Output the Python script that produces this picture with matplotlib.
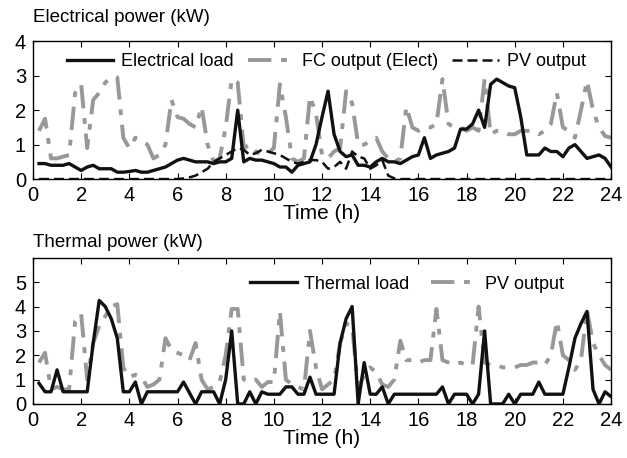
import numpy as np
import matplotlib
matplotlib.use('Agg')
import matplotlib.pyplot as plt

plt.rcParams['font.family'] = ['Liberation Sans', 'DejaVu Sans']

# time in hours, 15 min steps
hours = np.arange(1, 97) * 0.25

elec_load = [0.45, 0.45, 0.4, 0.4, 0.4, 0.45, 0.35, 0.25,
             0.35, 0.4, 0.3, 0.3, 0.3, 0.2, 0.2, 0.22,
             0.25, 0.2, 0.2, 0.25, 0.3, 0.35, 0.45, 0.55,
             0.6, 0.55, 0.5, 0.5, 0.5, 0.45, 0.5, 0.5,
             0.6, 2.0, 0.5, 0.6, 0.55, 0.55, 0.5, 0.45,
             0.35, 0.35, 0.2, 0.4, 0.45, 0.5, 1.0, 1.8,
             2.55, 1.3, 0.8, 0.65, 0.7, 0.4, 0.4, 0.35,
             0.5, 0.6, 0.5, 0.5, 0.45, 0.55, 0.65, 0.7,
             1.2, 0.6, 0.7, 0.75, 0.8, 0.9, 1.45, 1.45,
             1.6, 2.0, 1.5, 2.75, 2.9, 2.8, 2.7, 2.65,
             1.8, 0.7, 0.7, 0.7, 0.9, 0.8, 0.8, 0.65,
             0.9, 1.0, 0.8, 0.6, 0.65, 0.7, 0.6, 0.35]

fc_elec = [1.4, 1.75, 0.6, 0.6, 0.65, 0.7, 2.5, 2.75,
           0.9, 2.3, 2.5, 2.8, 2.95, 2.95, 1.2, 0.9,
           1.2, 1.1, 1.0, 0.6, 0.7, 1.0, 2.3, 1.8,
           1.75, 1.6, 1.5, 2.1, 1.0, 0.5, 0.6, 1.5,
           2.9, 2.8, 0.9, 1.0, 0.8, 0.7, 0.75, 0.9,
           2.75, 1.8, 0.6, 0.5, 0.6, 2.4, 1.9, 0.7,
           0.6, 0.8, 0.9, 2.55, 2.2, 1.0, 1.0, 1.1,
           1.2, 0.8, 0.6, 0.5, 0.6, 2.1, 1.5, 1.4,
           1.5, 1.5, 1.6, 2.9, 1.6, 1.5, 1.5, 1.4,
           1.5, 1.4, 2.9, 1.3, 1.4, 1.4, 1.3, 1.3,
           1.4, 1.4, 1.4, 1.3, 1.4, 1.6, 2.5, 1.5,
           1.4, 1.2, 2.0, 2.85, 2.0, 1.5, 1.25, 1.2]

pv_elec = [0.0] * 20 + [0.0, 0.0, 0.0, 0.0,
           0.02, 0.05, 0.1, 0.2, 0.3, 0.5, 0.6, 0.7,
           0.8, 0.9, 0.85, 0.7, 0.75, 0.85, 0.8, 0.75,
           0.7, 0.6, 0.5, 0.45, 0.5, 0.55, 0.55, 0.5,
           0.3, 0.35, 0.5, 0.3, 0.8, 0.65, 0.6, 0.3,
           0.4, 0.55, 0.1, 0.02] + [0.0] * 36

th_load = [0.85, 0.5, 0.5, 1.4, 0.5, 0.5, 0.5, 0.5,
           0.5, 2.5, 4.25, 4.0, 3.5, 2.7, 0.5, 0.5,
           0.9, 0.0, 0.5, 0.5, 0.5, 0.5, 0.5, 0.5,
           0.9, 0.45, 0.0, 0.5, 0.5, 0.5, 0.0, 1.0,
           3.0, 0.0, 0.0, 0.5, 0.0, 0.5, 0.4, 0.4,
           0.4, 0.7, 0.7, 0.4, 0.4, 1.1, 0.4, 0.4,
           0.4, 0.4, 2.5, 3.5, 4.0, 0.0, 1.7, 0.4,
           0.4, 0.7, 0.0, 0.4, 0.4, 0.4, 0.4, 0.4,
           0.4, 0.4, 0.4, 0.7, 0.0, 0.4, 0.4, 0.4,
           0.0, 0.4, 3.0, 0.0, 0.0, 0.0, 0.4, 0.0,
           0.4, 0.4, 0.4, 0.9, 0.4, 0.4, 0.4, 0.4,
           1.5, 2.7, 3.3, 3.8, 0.6, 0.0, 0.5, 0.3]

pv_th = [1.7, 2.1, 0.6, 0.7, 0.6, 0.6, 3.4, 3.7,
         1.0, 2.5, 3.2, 3.6, 4.0, 4.1, 1.5, 1.1,
         1.2, 1.1, 0.7, 0.8, 1.0, 2.7, 2.2, 2.1,
         2.0, 1.8, 2.5, 1.0, 0.6, 0.7, 0.9, 2.0,
         3.9, 3.9, 1.0, 0.9, 1.0, 0.7, 0.9, 0.9,
         3.8, 1.0, 0.8, 0.7, 0.6, 3.0, 1.5, 0.6,
         0.8, 1.0, 2.5, 3.3, 3.2, 0.6, 1.2, 1.5,
         1.3, 0.8, 0.7, 1.0, 2.6, 1.8, 1.8, 1.7,
         1.8, 1.8, 3.9, 1.8, 1.7, 1.6, 1.7, 1.6,
         1.6, 4.0, 1.7, 1.6, 1.6, 1.5, 1.5, 1.5,
         1.6, 1.6, 1.7, 1.7, 1.6, 2.0, 3.4, 2.0,
         1.8, 1.4, 1.8, 3.85, 2.5, 2.0, 1.6, 1.4]

gray = '#989898'
fs = 13

fig = plt.figure(figsize=(6.27, 4.58), dpi=100)
ax1 = fig.add_axes([0.0526, 0.609, 0.922, 0.301])
ax2 = fig.add_axes([0.0526, 0.118, 0.922, 0.319])

ax1.plot(hours, elec_load, color='#111111', lw=2.4, label='Electrical load', zorder=4)
ax1.plot(hours, fc_elec, color=gray, lw=2.8, dashes=(6, 2.5, 1.5, 2.5), label='FC output (Elect)', zorder=2)
ax1.plot(hours, pv_elec, color='#111111', lw=1.8, dashes=(4, 2), label='PV output', zorder=3)
ax1.set_ylim(0, 4)
ax1.set_yticks(range(0, 5))
ax1.legend(loc='upper center', bbox_to_anchor=(0.507, 1.03), ncol=3, frameon=False,
           fontsize=fs, handlelength=2.6, columnspacing=0.8, handletextpad=0.4)
fig.text(0.0526, 0.962, 'Electrical power (kW)', fontsize=13.5, va='center')

ax2.plot(hours, th_load, color='#111111', lw=2.4, label='Thermal load', zorder=4)
ax2.plot(hours, pv_th, color=gray, lw=2.8, dashes=(6, 2.5, 1.5, 2.5), label='PV output', zorder=2)
ax2.set_ylim(0, 6)
ax2.set_yticks(range(0, 6))
ax2.legend(loc='upper center', bbox_to_anchor=(0.647, 0.99), ncol=2, frameon=False,
           fontsize=fs, handlelength=2.6, columnspacing=1.2, handletextpad=0.4)
fig.text(0.0526, 0.471, 'Thermal power (kW)', fontsize=13.5, va='center')

for ax in (ax1, ax2):
    ax.set_xlim(0, 24)
    ax.set_xticks(range(0, 25, 2))
    ax.set_xlabel('Time (h)', fontsize=15, labelpad=-1)
    ax.tick_params(direction='in', top=True, right=True, labelright=False,
                   labelsize=14.5, length=4, width=0.8)
    ax.tick_params(axis='x', pad=5)
    ax.tick_params(axis='y', pad=5)
    for s in ax.spines.values():
        s.set_linewidth(1.0)

fig.savefig('out.png', dpi=100)
